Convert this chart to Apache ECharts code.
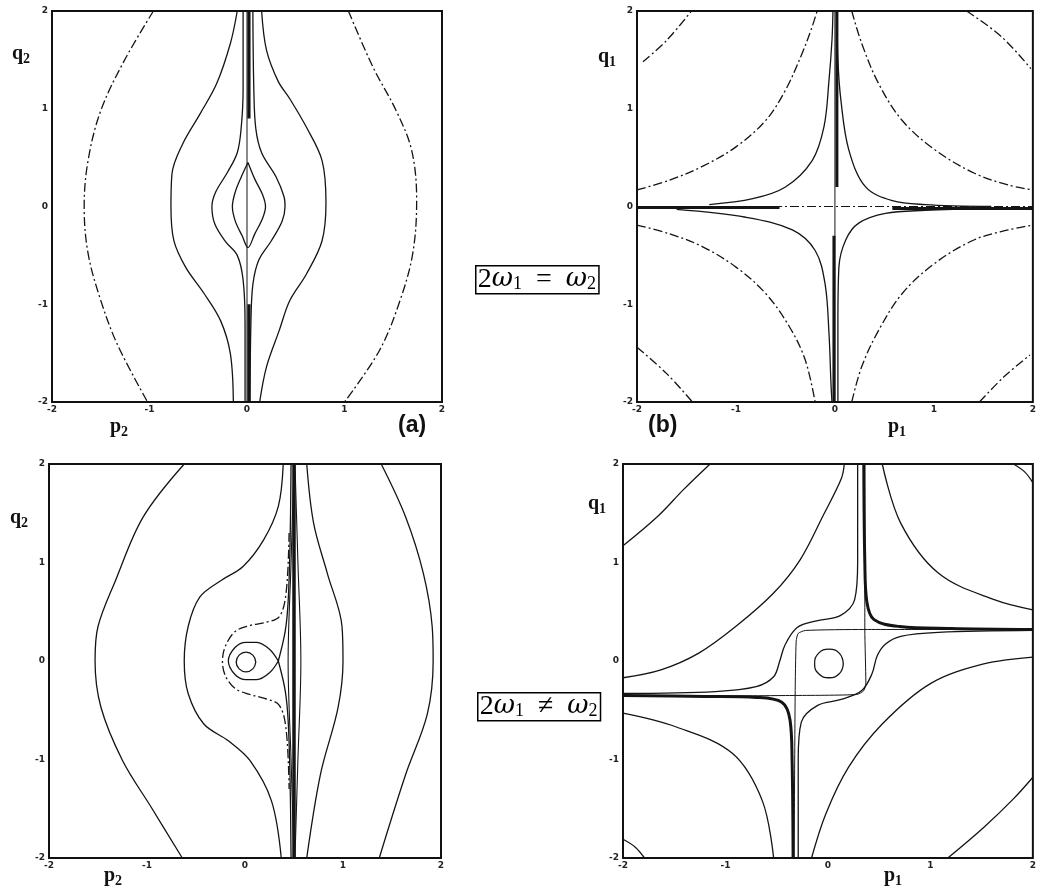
<!DOCTYPE html>
<html>
<head>
<meta charset="utf-8">
<script src="https://cdn.jsdelivr.net/npm/echarts@6/dist/echarts.min.js"></script>
<style>
  html, body { margin: 0; padding: 0; background: #fff; }
  #chart { width: 1039px; height: 892px; }
</style>
</head>
<body>
<div id="chart"></div>
<script>
// Tick labels shared by every panel
const tickValues = [-2, -1, 0, 1, 2];

// ---- Panel (a): 2w1 = w2, (p2, q2) plane ----
const aOuterLeft  = [[-0.96,2],[-1.26,1.49],[-1.50,0.98],[-1.63,0.47],[-1.67,0],[-1.63,-0.48],[-1.50,-0.96],[-1.33,-1.41],[-1.02,-2]];
const aOuterRight = [[1.04,2],[1.29,1.43],[1.53,0.98],[1.69,0.57],[1.74,0.06],[1.70,-0.48],[1.57,-0.96],[1.36,-1.47],[1.0,-2]];
const aMidLeft    = [[-0.10,2],[-0.17,1.67],[-0.31,1.26],[-0.48,0.95],[-0.66,0.64],[-0.77,0.33],[-0.78,0],[-0.75,-0.35],[-0.63,-0.62],[-0.44,-0.89],[-0.27,-1.17],[-0.17,-1.51],[-0.14,-2]];
const aMidRight   = [[0.15,2],[0.20,1.6],[0.32,1.28],[0.44,1.10],[0.61,0.81],[0.77,0.47],[0.81,0.04],[0.77,-0.35],[0.61,-0.69],[0.44,-0.96],[0.33,-1.27],[0.20,-1.64],[0.13,-2]];
const aInnerLeft  = [[-0.04,2],[-0.04,1.2],[-0.06,0.8],[-0.1,0.55],[-0.2,0.35],[-0.32,0.15],[-0.36,0],[-0.33,-0.18],[-0.22,-0.36],[-0.1,-0.5],[-0.04,-0.75],[-0.02,-1.2],[-0.02,-2]];
const aInnerRight = [[0.06,2],[0.07,1.2],[0.09,0.8],[0.15,0.55],[0.3,0.3],[0.38,0.1],[0.39,0],[0.36,-0.15],[0.25,-0.35],[0.12,-0.55],[0.06,-0.8],[0.04,-1.2],[0.03,-2]];
const aLens       = [[0.01,0.45],[-0.06,0.3],[-0.12,0.15],[-0.15,0],[-0.12,-0.15],[-0.05,-0.3],[0.01,-0.42],[0.08,-0.28],[0.16,-0.12],[0.19,0],[0.16,0.12],[0.08,0.28],[0.01,0.45]];
const aAxisThin   = [[0,-2],[0,2]];
const aAxisBoldTop = [[0.02,0.9],[0.02,2]];
const aAxisBoldBot = [[0.02,-2],[0.02,-1.0]];

// ---- Panel (b): 2w1 = w2, (p1, q1) plane ----
const bOuterTL = [[-1.94,1.48],[-1.70,1.70],[-1.45,2]];
const bOuterTR = [[1.33,2],[1.68,1.74],[1.98,1.41]];
const bOuterBL = [[-2,-1.44],[-1.70,-1.71],[-1.44,-2]];
const bOuterBR = [[1.46,-2],[1.71,-1.74],[1.97,-1.52]];
const bMidTL = [[-2,0.17],[-1.67,0.27],[-1.34,0.41],[-1.0,0.61],[-0.70,0.88],[-0.50,1.19],[-0.33,1.57],[-0.23,1.84],[-0.18,2]];
const bMidTR = [[0.17,2],[0.27,1.67],[0.44,1.26],[0.68,0.88],[1.01,0.58],[1.41,0.34],[1.75,0.22],[2,0.17]];
const bMidBL = [[-2,-0.19],[-1.67,-0.28],[-1.34,-0.41],[-1.0,-0.62],[-0.70,-0.89],[-0.46,-1.23],[-0.30,-1.57],[-0.20,-2]];
const bMidBR = [[0.17,-2],[0.27,-1.64],[0.44,-1.27],[0.68,-0.89],[1.01,-0.58],[1.41,-0.34],[1.75,-0.24],[2,-0.19]];
const bInTL = [[-1.27,0.02],[-0.83,0.08],[-0.50,0.20],[-0.23,0.47],[-0.11,0.82],[-0.06,1.29],[-0.03,1.7],[-0.02,2]];
const bInTR = [[0.02,2],[0.03,1.5],[0.06,1.09],[0.14,0.58],[0.31,0.20],[0.58,0.06],[0.91,0.02],[1.58,0.0]];
const bInBL = [[-1.6,-0.03],[-0.90,-0.11],[-0.43,-0.24],[-0.20,-0.45],[-0.10,-0.79],[-0.06,-1.30],[-0.04,-1.81],[-0.03,-2]];
const bInBR = [[0.03,-2],[0.03,-1.2],[0.04,-0.62],[0.11,-0.34],[0.24,-0.17],[0.51,-0.07],[0.91,-0.04],[1.58,-0.02]];
const bAxisV = [[0,-2],[0,2]];
const bAxisH = [[-2,0],[2,0]];
const bBoldTop = [[0.02,0.2],[0.02,2]];
const bBoldBot = [[-0.01,-2],[-0.01,-0.3]];
const bBoldLeft = [[-2,-0.01],[-0.56,-0.01]];
const bBoldRight = [[0.58,-0.02],[2,-0.02]];

// ---- Panel (c): 2w1 != w2, (p2, q2) plane ----
const cOuterLeft  = [[-0.62,2],[-1.04,1.46],[-1.32,0.82],[-1.50,0.35],[-1.53,0],[-1.47,-0.47],[-1.25,-1.01],[-0.96,-1.48],[-0.64,-2]];
const cOuterRight = [[1.39,2],[1.64,1.46],[1.82,0.89],[1.91,0.35],[1.92,0],[1.86,-0.54],[1.64,-1.15],[1.37,-2]];
const cMidLeft    = [[0.39,2],[0.34,1.57],[0.19,1.23],[-0.02,0.96],[-0.24,0.82],[-0.46,0.65],[-0.58,0.35],[-0.62,0],[-0.58,-0.33],[-0.42,-0.64],[-0.17,-0.81],[0.05,-1.01],[0.27,-1.42],[0.37,-2]];
const cMidRight   = [[0.63,2],[0.70,1.40],[0.84,0.89],[0.99,0.35],[1.0,0],[0.95,-0.47],[0.77,-1.15],[0.63,-2]];
const cLoopOuter  = [[0.45,1.3],[0.42,0.7],[0.35,0.45],[0.2,0.39],[0.05,0.36],[-0.1,0.3],[-0.2,0.15],[-0.23,0],[-0.2,-0.15],[-0.1,-0.28],[0.05,-0.34],[0.2,-0.38],[0.35,-0.45],[0.42,-0.7],[0.45,-1.3]];
const cSepUp   = [[0.47,2],[0.46,1.2],[0.44,0.6],[0.41,0.3],[0.34,0]];
const cSepLoop = [[0.34,0],[0.25,0.12],[0.12,0.19],[0.01,0.19],[-0.1,0.14],[-0.17,0],[-0.1,-0.14],[0.01,-0.19],[0.12,-0.19],[0.25,-0.12],[0.34,0]];
const cSepDown = [[0.34,0],[0.41,-0.3],[0.44,-0.6],[0.46,-1.2],[0.47,-2]];
const cCircle  = [[0.11,-0.01],[0.08,0.06],[0.01,0.09],[-0.06,0.06],[-0.09,-0.01],[-0.06,-0.08],[0.01,-0.11],[0.08,-0.08],[0.11,-0.01]];
const cCore      = [[0.5,-2],[0.5,2]];
const cLensLeft  = [[0.5,2],[0.47,1],[0.44,0],[0.47,-1],[0.5,-2]];
const cLensRight = [[0.51,2],[0.54,1],[0.57,0],[0.54,-1],[0.51,-2]];

// ---- Panel (d): 2w1 != w2, (p1, q1) plane ----
const dOuterTL = [[-2,1.17],[-1.66,1.47],[-1.41,1.74],[-1.15,2]];
const dOuterBR = [[1.17,-2],[1.52,-1.69],[1.81,-1.40],[2,-1.18]];
const dCornerTR = [[1.81,2],[1.92,1.92],[2,1.81]];
const dCornerBL = [[-2,-1.81],[-1.88,-1.89],[-1.79,-2]];
const dDiagUpper = [[-2,-0.17],[-1.63,-0.09],[-1.26,0.08],[-0.9,0.35],[-0.53,0.69],[-0.27,1.03],[-0.05,1.47],[0.13,1.85],[0.16,2]];
const dDiagLower = [[-0.16,-2],[-0.02,-1.55],[0.2,-1.08],[0.53,-0.64],[1.0,-0.23],[1.52,-0.03],[2,0.04]];
const dHypTR = [[0.53,2],[0.71,1.40],[1.08,0.89],[1.63,0.62],[2,0.52]];
const dHypBL = [[-2,-0.53],[-1.48,-0.67],[-0.93,-0.94],[-0.64,-1.42],[-0.53,-2]];
const dSepTR = [[0.35,2],[0.36,1.0],[0.38,0.6],[0.45,0.42],[0.7,0.35],[1.2,0.33],[2,0.32]];
const dSepBL = [[-0.34,-2],[-0.35,-1.0],[-0.37,-0.6],[-0.45,-0.42],[-0.7,-0.37],[-1.2,-0.36],[-2,-0.35]];
const dLinkUpper = [[2,0.32],[0.35,0.32],[-0.22,0.31],[-0.29,0.28],[-0.31,0.2],[-0.32,-0.35],[-0.33,-2]];
const dLinkLower = [[0.36,2],[0.36,0.32],[0.37,-0.22],[0.35,-0.3],[0.28,-0.34],[-0.34,-0.35],[-2,-0.36]];
const dLoopUpper = [[0.29,2],[0.29,1.0],[0.26,0.62],[0.12,0.46],[-0.1,0.41],[-0.3,0.34],[-0.42,0.16],[-0.47,0.0],[-0.53,-0.16],[-0.7,-0.26],[-1.1,-0.31],[-2,-0.33]];
const dLoopLower = [[-0.29,-2],[-0.29,-1.0],[-0.26,-0.62],[-0.1,-0.45],[0.13,-0.39],[0.33,-0.3],[0.43,-0.13],[0.48,0.05],[0.56,0.17],[0.71,0.25],[1.08,0.29],[2,0.31]];
const dCircle = [[0.15,-0.03],[0.11,0.08],[0.01,0.12],[-0.09,0.08],[-0.13,-0.03],[-0.09,-0.13],[0.01,-0.17],[0.11,-0.13],[0.15,-0.03]];

// Line styles
const DASHDOT = [9, 3, 2, 3];
const INK = '#141414';

function curve(idx, data, opts) {
  opts = opts || {};
  return {
    type: 'line',
    xAxisIndex: idx,
    yAxisIndex: idx,
    data: data,
    showSymbol: false,
    symbol: 'none',
    smooth: opts.smooth === undefined ? 0.35 : opts.smooth,
    silent: true,
    clip: true,
    lineStyle: {
      color: INK,
      width: opts.width || 1.3,
      type: opts.dash || 'solid'
    },
    z: opts.z || 2
  };
}

const grids = [
  { left: 52,  top: 11,  width: 390, height: 391 },
  { left: 637, top: 11,  width: 397, height: 391 },
  { left: 49,  top: 464, width: 392, height: 394 },
  { left: 623, top: 464, width: 410, height: 394 }
];

const tickLabel = {
  fontSize: 9,
  fontWeight: 'bold',
  color: '#222',
  fontFamily: 'DejaVu Sans',
  formatter: v => tickValues.indexOf(v) >= 0 ? String(v) : ''
};

const xAxes = grids.map((g, i) => ({
  gridIndex: i, type: 'value', min: -2, max: 2, interval: 1,
  axisLine: { show: false }, axisTick: { show: false }, splitLine: { show: false },
  axisLabel: Object.assign({ margin: 3 }, tickLabel)
}));
const yAxes = grids.map((g, i) => ({
  gridIndex: i, type: 'value', min: -2, max: 2, interval: 1,
  axisLine: { show: false }, axisTick: { show: false }, splitLine: { show: false },
  axisLabel: Object.assign({ margin: 4 }, tickLabel)
}));

const series = [
  // (a)
  curve(0, aOuterLeft, { dash: DASHDOT }),
  curve(0, aOuterRight, { dash: DASHDOT }),
  curve(0, aMidLeft),
  curve(0, aMidRight),
  curve(0, aInnerLeft),
  curve(0, aInnerRight),
  curve(0, aLens),
  curve(0, aAxisThin, { smooth: false, width: 1 }),
  curve(0, aAxisBoldTop, { smooth: false, width: 3.2 }),
  curve(0, aAxisBoldBot, { smooth: false, width: 3.2 }),
  // (b)
  curve(1, bOuterTL, { dash: DASHDOT }),
  curve(1, bOuterTR, { dash: DASHDOT }),
  curve(1, bOuterBL, { dash: DASHDOT }),
  curve(1, bOuterBR, { dash: DASHDOT }),
  curve(1, bMidTL, { dash: DASHDOT }),
  curve(1, bMidTR, { dash: DASHDOT }),
  curve(1, bMidBL, { dash: DASHDOT }),
  curve(1, bMidBR, { dash: DASHDOT }),
  curve(1, bInTL),
  curve(1, bInTR),
  curve(1, bInBL),
  curve(1, bInBR),
  curve(1, bAxisV, { smooth: false, width: 1 }),
  curve(1, bAxisH, { smooth: false, width: 1.1, dash: DASHDOT }),
  curve(1, bBoldTop, { smooth: false, width: 3 }),
  curve(1, bBoldBot, { smooth: false, width: 3 }),
  curve(1, bBoldLeft, { smooth: false, width: 3 }),
  curve(1, bBoldRight, { smooth: false, width: 3 }),
  // (c)
  curve(2, cOuterLeft),
  curve(2, cOuterRight),
  curve(2, cMidLeft),
  curve(2, cMidRight),
  curve(2, cLoopOuter, { dash: DASHDOT }),
  curve(2, cSepUp),
  curve(2, cSepLoop),
  curve(2, cSepDown),
  curve(2, cCircle, { smooth: 0.5 }),
  curve(2, cCore, { smooth: false, width: 3.5 }),
  curve(2, cLensLeft, { width: 1.1 }),
  curve(2, cLensRight, { width: 1.1 }),
  // (d)
  curve(3, dOuterTL),
  curve(3, dOuterBR),
  curve(3, dCornerTR),
  curve(3, dCornerBL),
  curve(3, dDiagUpper),
  curve(3, dDiagLower),
  curve(3, dHypTR),
  curve(3, dHypBL),
  curve(3, dSepTR, { width: 3 }),
  curve(3, dSepBL, { width: 3 }),
  curve(3, dLinkUpper, { smooth: 0.2, width: 1 }),
  curve(3, dLinkLower, { smooth: 0.2, width: 1 }),
  curve(3, dLoopUpper),
  curve(3, dLoopLower),
  curve(3, dCircle, { smooth: 0.5 })
];

// Axis letter with a lowered subscript digit
function label(x, y, main, sub) {
  return {
    type: 'text', left: x, top: y, silent: true,
    style: {
      text: '{m|' + main + '}{s|' + sub + '}',
      rich: {
        m: { fontFamily: 'Liberation Serif', fontWeight: 'bold', fontSize: 20, lineHeight: 22, fill: '#111', verticalAlign: 'top' },
        s: { fontFamily: 'Liberation Serif', fontWeight: 'bold', fontSize: 14, lineHeight: 12, fill: '#111', verticalAlign: 'bottom' }
      }
    }
  };
}

// Boxed relation between the two frequencies
function boxLabel(x, y, rel) {
  return {
    type: 'text', left: x, top: y, silent: true,
    style: {
      text: '{n|2}{w|ω}{s|1}{n|\u2002' + rel + '\u2002}{w|ω}{s|2}',
      borderColor: '#000',
      borderWidth: 1.5,
      padding: [0, 3, 0, 2],
      rich: {
        n: { fontFamily: 'Liberation Serif', fontSize: 28, lineHeight: 28, fill: '#000', verticalAlign: 'top' },
        w: { fontFamily: 'DejaVu Serif', fontStyle: 'italic', fontSize: 26, lineHeight: 28, fill: '#000', verticalAlign: 'top' },
        s: { fontFamily: 'Liberation Serif', fontSize: 18, lineHeight: 14, fill: '#000', verticalAlign: 'bottom' }
      }
    }
  };
}

const graphic = [
  label(12, 44, 'q', '2'),
  label(110, 417, 'p', '2'),
  label(598, 47, 'q', '1'),
  label(888, 417, 'p', '1'),
  label(10, 508, 'q', '2'),
  label(104, 866, 'p', '2'),
  label(588, 494, 'q', '1'),
  label(884, 866, 'p', '1'),
  { type: 'text', left: 398, top: 414, style: { text: '(a)', font: 'bold 23px "Liberation Sans"', fill: '#111' } },
  { type: 'text', left: 648, top: 414, style: { text: '(b)', font: 'bold 23px "Liberation Sans"', fill: '#111' } },
  boxLabel(475, 265, '='),
  boxLabel(477, 692, '≠')
];

const chart = echarts.init(document.getElementById('chart'), null, { renderer: 'canvas' });
chart.setOption({
  animation: false,
  backgroundColor: '#ffffff',
  grid: grids.map(g => Object.assign({ show: true, borderColor: '#111', borderWidth: 2, backgroundColor: 'transparent' }, g)),
  xAxis: xAxes,
  yAxis: yAxes,
  series: series,
  graphic: graphic
});
</script>
</body>
</html>
